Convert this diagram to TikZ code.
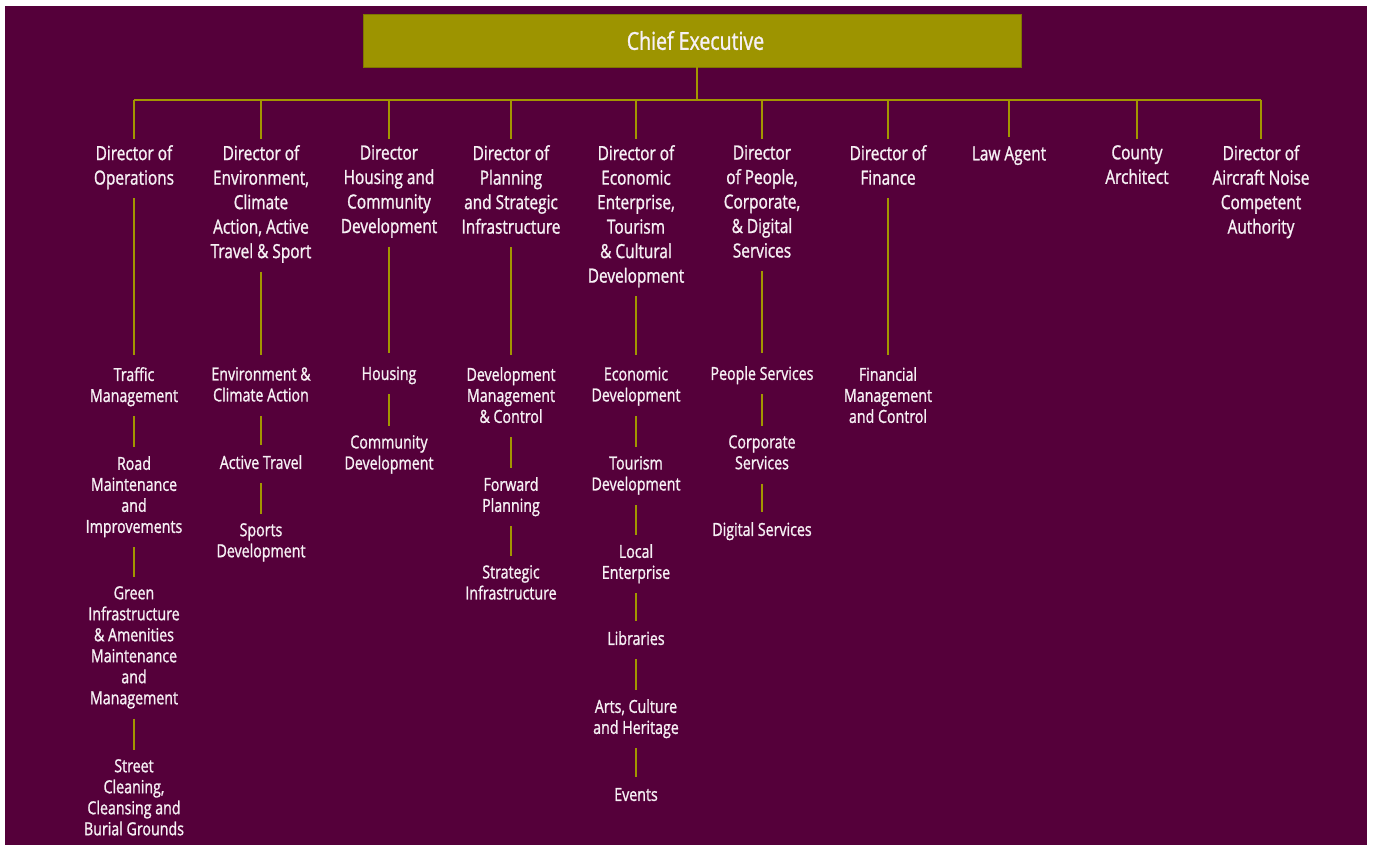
\documentclass[tikz,border=0pt]{standalone}
\usepackage{fontspec}
\setmainfont{Open Sans}[FakeStretch=0.79,FakeBold=1.2]
\definecolor{bgpurple}{RGB}{85,0,58}
\definecolor{boxolive}{RGB}{157,148,0}
\definecolor{lineolive}{RGB}{162,150,0}
\definecolor{txtwhite}{RGB}{246,240,244}
\tikzset{
  director/.style={anchor=north,inner sep=0pt,align=center,text=txtwhite,
    font=\fontsize{19.5}{24.5}\selectfont,
    execute at begin node=\strut,execute at end node=\strut},
  unit/.style={anchor=north,inner sep=0pt,align=center,text=txtwhite,
    font=\fontsize{18}{21}\selectfont,
    execute at begin node=\strut,execute at end node=\strut},
  link/.style={draw=lineolive,line width=2.4pt},
}
\begin{document}
\begin{tikzpicture}[x=1pt,y=-1pt]
\useasboundingbox (0,0) rectangle (1373,845);
\fill[white] (0,0) rectangle (1373,845);
\fill[bgpurple] (5,6) rectangle (1367,845);

\node[draw=boxolive!80!black,fill=boxolive,line width=0.8pt,minimum width=658pt,minimum height=53pt,
  text=txtwhite,font=\fontsize{24.7}{28}\selectfont] (chief) at (692,40.5) {\hspace*{7pt}Chief Executive};

\coordinate (top) at (697,100);
\coordinate (b1) at (134,100);
\coordinate (b2) at (261,100);
\coordinate (b3) at (389,100);
\coordinate (b4) at (511,100);
\coordinate (b5) at (636,100);
\coordinate (b6) at (762,100);
\coordinate (b7) at (888,100);
\coordinate (b8) at (1009,100);
\coordinate (b9) at (1137,100);
\coordinate (b10) at (1261,100);

\node[director] (d1) at (134,145) {Director of\\Operations};
\node[director] (d2) at (261,145) {Director of\\Environment,\\Climate\\Action, Active\\Travel \& Sport};
\node[director] (d3) at (389,145) {Director\\Housing and\\Community\\Development};
\node[director] (d4) at (511,145) {Director of\\Planning\\and Strategic\\Infrastructure};
\node[director] (d5) at (636,145) {Director of\\Economic\\Enterprise,\\Tourism\\\& Cultural\\Development};
\node[director] (d6) at (762,145) {Director\\of People,\\Corporate,\\\& Digital\\Services};
\node[director] (d7) at (888,145) {Director of\\Finance};
\node[director] (d8) at (1009,143) {Law Agent};
\node[director] (d9) at (1137,145) {County\\Architect};
\node[director] (d10) at (1261,145) {Director of\\Aircraft Noise\\Competent\\Authority};

\node[unit] (u11) at (134,367) {Traffic\\Management};
\node[unit] (u12) at (134,456) {Road\\Maintenance\\and\\Improvements};
\node[unit] (u13) at (134,586) {Green\\Infrastructure\\\& Amenities\\Maintenance\\and\\Management};
\node[unit] (u14) at (134,759) {Street\\Cleaning,\\Cleansing and\\Burial Grounds};

\node[unit] (u21) at (261,367) {Environment \&\\Climate Action};
\node[unit] (u22) at (261,454) {Active Travel};
\node[unit] (u23) at (261,523) {Sports\\Development};

\node[unit] (u31) at (389,365) {Housing};
\node[unit] (u32) at (389,435) {Community\\Development};

\node[unit] (u41) at (511,367) {Development\\Management\\\& Control};
\node[unit] (u42) at (511,477) {Forward\\Planning};
\node[unit] (u43) at (511,565) {Strategic\\Infrastructure};

\node[unit] (u51) at (636,367) {Economic\\Development};
\node[unit] (u52) at (636,456) {Tourism\\Development};
\node[unit] (u53) at (636,544) {Local\\Enterprise};
\node[unit] (u54) at (636,630) {Libraries};
\node[unit] (u55) at (636,699) {Arts, Culture\\and Heritage};
\node[unit] (u56) at (636,786) {Events};

\node[unit] (u61) at (762,365) {People Services};
\node[unit] (u62) at (762,435) {Corporate\\Services};
\node[unit] (u63) at (762,521) {Digital Services};

\node[unit] (u71) at (888,367) {Financial\\Management\\and Control};

\draw[link] (chief.south -| top) -- (top);
\draw[link] (b1) -- (b10);
\foreach \i in {1,...,10}
  \draw[link,shorten >=6pt] (b\i) -- (d\i.north);

\foreach \i in {1,...,7}
  \draw[link,shorten <=6pt,shorten >=12pt] (d\i.south) -- (u\i1.north);

\foreach \a/\b in {u11/u12,u12/u13,u13/u14,u21/u22,u22/u23,u31/u32,u41/u42,u42/u43,
  u51/u52,u52/u53,u53/u54,u54/u55,u55/u56,u61/u62,u62/u63}
  \draw[link,shorten <=8pt,shorten >=9pt] (\a.south) -- (\b.north);
\end{tikzpicture}
\end{document}
